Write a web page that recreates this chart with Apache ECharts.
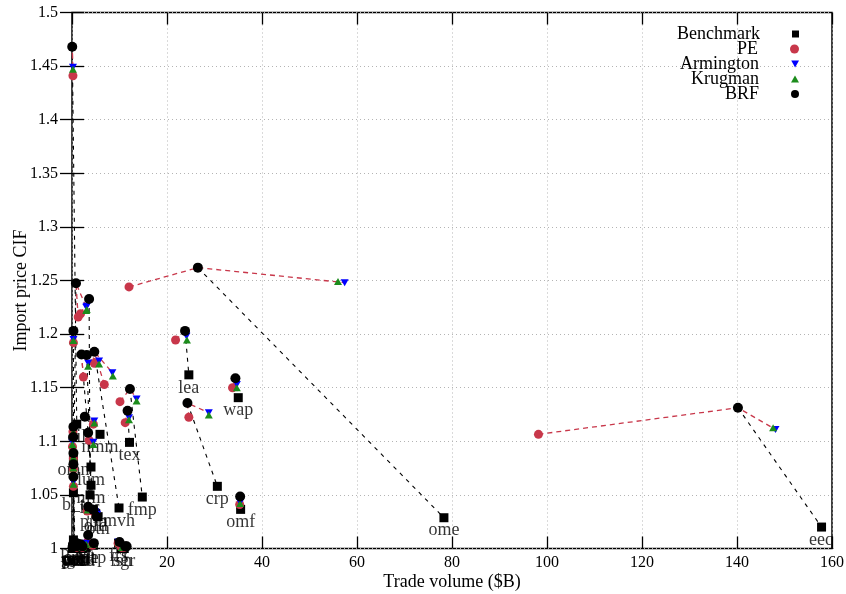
<!DOCTYPE html>
<html><head><meta charset="utf-8">
<script src="https://cdn.jsdelivr.net/npm/echarts@6/dist/echarts.min.js"></script>
<style>html,body{margin:0;padding:0;background:#fff}#c{width:846px;height:594px}</style>
</head><body><div id="c"></div>
<script>
// ---- data ----
const sectors = ['eeq','ome','lea','wap','crp','omf','fmp','tex','mvh','nmm','oil','omn','b_t','i_s','lum','nfm','ppp','ofd','otn','ele','p_c','gas','coa','ocr','pcr','ctl','oap','frs','fsh','pdr','wht','gro','v_f','osd','sgr','vol','mil','cmt'];
const benchX = [157.8,78.3,24.6,35.0,30.6,35.5,14.8,12.1,9.9,5.9,1.0,0.3,0.3,3.8,4.0,4.0,4.5,5.0,5.5,3.4,0.3,0.2,0.5,0.6,0.4,3.0,4.5,9.8,10.3,0.2,0.9,1.3,1.8,2.2,11.0,0.1,0.7,1.0];
const benchY = [1.020,1.0287,1.162,1.1407,1.058,1.0365,1.048,1.099,1.0378,1.1065,1.116,1.085,1.052,1.050,1.076,1.059,1.0365,1.0325,1.0297,1.003,1.008,1.002,1.000,1.001,1.001,1.001,1.003,1.005,1.000,1.001,1.000,1.001,1.002,1.000,1.000,1.000,1.001,1.003];
const peX = [98.2,12.0,21.8,33.8,24.6,35.3,10.1,11.2,6.8,4.5,0.2,0.3,1.3,1.8,2.4,4.7,3.6,4.4,5.0,3.2,0.2,0.1,0.3,0.3,0.3,3.2,4.3,9.7,10.4,0.2,0.9,1.3,1.8,2.2,11.0,0.1,0.7,1.0];
const peY = [1.1065,1.244,1.1945,1.150,1.1224,1.041,1.137,1.1174,1.153,1.116,1.441,1.192,1.216,1.219,1.160,1.1727,1.101,1.035,1.031,1.035,1.109,1.095,1.084,1.074,1.058,1.006,1.003,1.005,1.001,1.002,1.001,1.002,1.003,1.001,1.001,1.001,1.002,1.004];
const armX = [148.1,57.4,24.1,34.7,28.8,35.4,13.6,12.0,8.5,4.7,0.2,0.3,3.0,3.1,3.4,5.7,4.5,4.9,5.3,3.3,0.3,0.1,0.3,0.3,0.3,3.0,4.5,9.8,10.5,0.2,0.9,1.3,1.8,2.2,11.0,0.1,0.7,1.0];
const armY = [1.111,1.248,1.198,1.153,1.1267,1.043,1.1395,1.122,1.164,1.119,1.449,1.195,1.225,1.226,1.173,1.175,1.099,1.034,1.032,1.037,1.110,1.099,1.086,1.076,1.062,1.005,1.004,1.006,1.001,1.002,1.001,1.002,1.003,1.001,1.001,1.001,1.002,1.004];
const krugX = [147.6,56.0,24.2,34.7,28.8,35.4,13.6,12.0,8.6,4.7,0.2,0.3,3.0,3.1,3.4,5.7,4.5,4.9,5.3,3.3,0.3,0.1,0.3,0.3,0.3,3.0,4.5,9.8,10.5,0.2,0.9,1.3,1.8,2.2,11.0,0.1,0.7,1.0];
const krugY = [1.1127,1.249,1.1945,1.150,1.1245,1.042,1.1375,1.120,1.161,1.117,1.447,1.194,1.222,1.223,1.170,1.172,1.097,1.033,1.031,1.036,1.109,1.097,1.085,1.075,1.060,1.004,1.004,1.006,1.001,1.002,1.001,1.002,1.003,1.001,1.001,1.001,1.002,1.004];
const brfX = [140.2,26.5,23.8,34.4,24.3,35.4,12.2,11.7,4.7,2.7,0.05,0.3,0.84,3.6,2.0,3.1,3.4,4.5,5.2,3.4,0.3,0.3,0.3,0.3,0.3,3.4,4.6,10.0,11.5,0.2,0.9,1.3,1.8,2.2,11.2,0.1,0.7,1.0];
const brfY = [1.1313,1.262,1.203,1.1588,1.1357,1.0485,1.1488,1.1285,1.1836,1.123,1.468,1.203,1.2475,1.2327,1.181,1.1805,1.108,1.036,1.0297,1.039,1.1136,1.104,1.089,1.0785,1.067,1.0126,1.005,1.006,1.002,1.003,1.002,1.003,1.004,1.002,1.002,1.001,1.003,1.005];
const seriesNames = ['Benchmark','PE','Armington','Krugman','BRF'];

// ---- chart ----
const F = '"Liberation Serif", serif';
const zip = (xs, ys) => xs.map((x, i) => [x, ys[i]]);
const colors = {Benchmark:'#000000', PE:'#c8374a', Armington:'#0000ff', Krugman:'#1c8c1c', BRF:'#000000'};
const chart = echarts.init(document.getElementById('c'), null, {renderer:'canvas'});

const redLines = sectors.map((s, i) => ({coords: [[peX[i], peY[i]], [brfX[i], brfY[i]], [armX[i], armY[i]]]}));
const blackLines = sectors.map((s, i) => ({coords: [[brfX[i], brfY[i]], [benchX[i], benchY[i]]]}));

const tickStyle = {show:true, inside:true, length:12, lineStyle:{color:'#000', width:1.3}};
const legendIcons = ['rect','circle','path://M0,0L10,0L5,9Z','triangle','circle'];
const legendSizes = [[7,7],[9,9],[8,7],[8,7],[8,8]];

const option = {
  animation: false,
  backgroundColor: '#fff',
  grid: {left:72, right:14, top:12.5, bottom:45.5, show:true, borderColor:'#000', borderWidth:1.5,
         backgroundColor:'transparent', outerBoundsMode:'none', containLabel:false},
  legend: seriesNames.map((n, i) => ({
    data: [{name:n, icon: legendIcons[i]}],
    orient:'horizontal', align:'right', right:47, top: 25 + i*15,
    itemWidth: legendSizes[i][0], itemHeight: legendSizes[i][1], itemGap:0, padding:0,
    selectedMode:false, itemStyle:{opacity:1},
    textStyle:{fontFamily:F, fontSize:18, color:'#000', padding:[0,27,0,0], lineHeight:15}
  })),
  xAxis: [
    {type:'value', min:0, max:160, interval:20, position:'bottom',
     axisLine:{show:false}, axisTick:tickStyle,
     axisLabel:{fontFamily:F, fontSize:16, color:'#000', margin:6},
     splitLine:{show:true, lineStyle:{color:'#b4b4b4', type:[1,3], width:1}},
     name:'Trade volume ($B)', nameLocation:'middle', nameGap:25, nameMoveOverlap:false,
     nameTextStyle:{fontFamily:F, fontSize:18, color:'#000'}},
    {type:'value', min:0, max:160, interval:20, position:'top',
     axisLine:{show:false}, axisTick:tickStyle, axisLabel:{show:false}, splitLine:{show:false}}
  ],
  yAxis: [
    {type:'value', min:1, max:1.5, interval:0.05, position:'left',
     axisLine:{show:false}, axisTick:tickStyle,
     axisLabel:{fontFamily:F, fontSize:16, color:'#000', margin:14},
     splitLine:{show:true, lineStyle:{color:'#b4b4b4', type:[1,3], width:1}},
     name:'Import price CIF', nameLocation:'middle', nameGap:42, nameMoveOverlap:false,
     nameTextStyle:{fontFamily:F, fontSize:18, color:'#000', padding:[0,20,0,0]}},
    {type:'value', min:1, max:1.5, interval:0.05, position:'right',
     axisLine:{show:false}, axisTick:tickStyle, axisLabel:{show:false}, splitLine:{show:false}}
  ],
  series: [
    {type:'scatter', name:'labels', silent:true, z:1, symbol:'rect', symbolSize:1,
     itemStyle:{color:'rgba(0,0,0,0)'}, clip:false,
     data: sectors.map((s, i) => ({name:s, value:[benchX[i], benchY[i]]})),
     label:{show:true, position:'inside', offset:[0,13], formatter:'{b}', fontFamily:F, fontSize:18, color:'#000'}},
    {type:'lines', coordinateSystem:'cartesian2d', polyline:true, silent:true, z:2, clip:false,
     data: blackLines, lineStyle:{color:'#000', width:1.1, type:[4,5], opacity:1}},
    {type:'lines', coordinateSystem:'cartesian2d', polyline:true, silent:true, z:2, clip:false,
     data: redLines, lineStyle:{color:'#c8374a', width:1.3, type:[5,4], opacity:1}},
    {type:'scatter', name:'Benchmark', symbol:'rect', symbolSize:9, z:3, clip:false,
     itemStyle:{color:colors.Benchmark, opacity:1}, data: zip(benchX, benchY)},
    {type:'scatter', name:'PE', symbol:'circle', symbolSize:9, z:4, clip:false,
     itemStyle:{color:colors.PE, opacity:1}, data: zip(peX, peY)},
    {type:'scatter', name:'Armington', symbol:'triangle', symbolRotate:180, symbolSize:[8,7], z:5, clip:false,
     itemStyle:{color:colors.Armington, opacity:1}, data: zip(armX, armY)},
    {type:'scatter', name:'Krugman', symbol:'triangle', symbolSize:[8,7], z:6, clip:false,
     itemStyle:{color:colors.Krugman, opacity:1}, data: zip(krugX, krugY)},
    {type:'scatter', name:'BRF', symbol:'circle', symbolSize:10, z:7, clip:false,
     itemStyle:{color:colors.BRF, opacity:1}, data: zip(brfX, brfY)}
  ]
};
chart.setOption(option);
</script>
</body></html>
